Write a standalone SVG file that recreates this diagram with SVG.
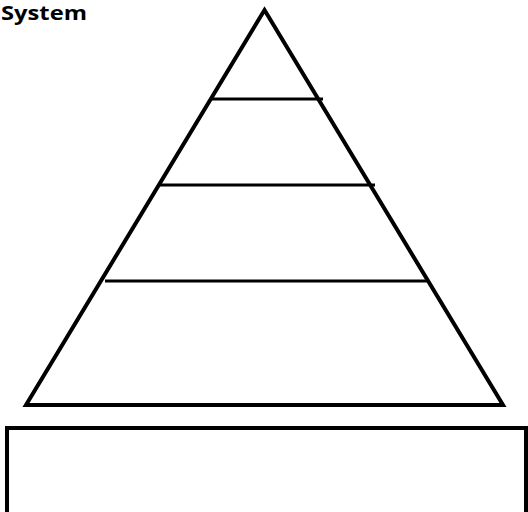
<svg xmlns="http://www.w3.org/2000/svg" width="528" height="512" viewBox="0 0 528 512">
<style>
.s{fill:none;stroke:#000;stroke-width:4;stroke-linejoin:miter}
.l{stroke:#000;stroke-width:3}
.t{font-family:"Open Sans","Liberation Sans",sans-serif;font-weight:bold;font-size:20px;fill:#000}
</style>
<rect width="528" height="512" fill="#fff"/>
<text class="t" x="1" y="20" textLength="86" lengthAdjust="spacingAndGlyphs">System</text>
<g id="pyramid">
<polygon class="s" points="264.5,10 503,405 26,405"/>
</g>
<g id="levels">
<line class="l" x1="211" y1="99" x2="323" y2="99"/>
<line class="l" x1="158" y1="185" x2="375" y2="185"/>
<line class="l" x1="105" y1="281" x2="428" y2="281"/>
</g>
<g id="base">
<rect class="s" x="7" y="428" width="519" height="100"/>
</g>
</svg>
